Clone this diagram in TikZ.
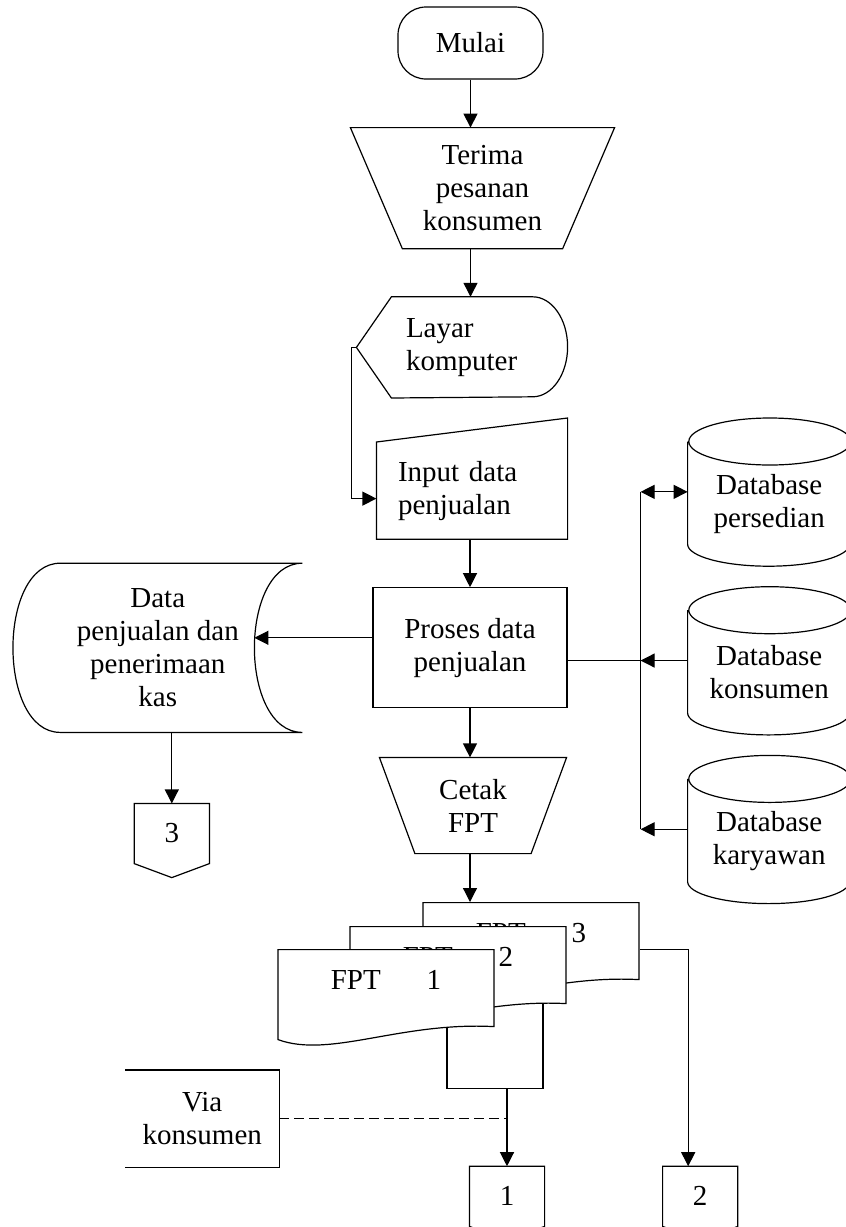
\documentclass[tikz,border=0pt]{standalone}
\usepackage{fontspec}
\setmainfont{Liberation Serif}
\usetikzlibrary{positioning,arrows.meta,calc}

\begin{document}
\begin{tikzpicture}[
    font=\fontsize{14.5pt}{16.5pt}\selectfont,
    line width=0.6pt,
    terminal/.style={rectangle, draw, rounded corners=14pt, minimum width=72.5pt, minimum height=36pt, align=center},
    box/.style={rectangle, draw, minimum width=97pt, minimum height=60pt, align=center},
    frame/.style={rectangle, inner sep=0pt, align=center},
    doc/.style={rectangle, minimum width=108pt, minimum height=38.5pt, inner ysep=0pt, text height=10pt, text depth=8.5pt},
    offpage/.style={rectangle, minimum width=37pt, minimum height=29.5pt, inner sep=0pt},
    db/.style={rectangle, minimum width=81pt, minimum height=61.75pt, inner sep=0pt, align=center},
    arrow/.style={-{Triangle[length=7pt,width=7pt]}},
    arrow2/.style={{Triangle[length=7pt,width=7pt]}-{Triangle[length=7pt,width=7pt]}}
]
\useasboundingbox (0,0) rectangle (423pt,-613.5pt);

% main flow
\node[terminal] (mulai) at (235.25pt,-21.5pt) {Mulai};
\node[frame, minimum width=131.5pt, minimum height=60pt, below=24pt of mulai, xshift=6pt] (terima) {Terima\\pesanan\\konsumen};
\node[frame, minimum width=105pt, minimum height=50pt, inner xsep=24.5pt, text width=56pt, align=left, below=24pt of terima, xshift=-10.25pt] (layar) {Layar\\komputer};
\node[frame, minimum width=95pt, minimum height=48pt, inner xsep=10.5pt, text width=74pt, align=left, below=22pt of layar, xshift=5pt] (input) {Input data\\penjualan};
\node[box, below=24pt of input, xshift=-1pt] (proses) {Proses data\\penjualan};
\node[frame, minimum width=93pt, minimum height=47.5pt, below=24.5pt of proses, xshift=1.5pt] (cetak) {Cetak\\FPT};
\node[frame, minimum width=144pt, minimum height=84pt, left=35pt of proses] (data) {Data\\penjualan dan\\penerimaan\\kas};
\node[offpage, below=35.5pt of data, xshift=7pt] (conn3) {3};

% databases
\node[db, right=60pt of input, yshift=-6.625pt] (persedian) {Database\\persedian};
\node[db, below=22pt of persedian] (konsumen) {Database\\konsumen};
\node[db, below=22pt of konsumen] (karyawan) {Database\\karyawan};

% FPT copies
\coordinate[below=43.75pt of cetak, xshift=29pt] (d3);
\node[rectangle, draw, fill=white, minimum width=48pt, minimum height=48.5pt] (arsip) at ([xshift=-18pt,yshift=-49.5pt]d3) {};
\foreach \i/\dx/\dy in {3/0/0, 2/-36.5/-12, 1/-72.5/-23.5} {
  \draw[fill=white, shift={([xshift=\dx pt,yshift=\dy pt]d3)}] (-54pt,19.25pt) -- (54pt,19.25pt) -- (54pt,-19.25pt)
    .. controls (7pt,-16.75pt) and (-28pt,-35.25pt) .. (-54pt,-25.75pt) -- cycle;
  \node[doc] (fpt\i) at ([xshift=\dx pt,yshift=\dy pt]d3) {FPT\hspace{23pt}\i};
}
\node[frame, minimum width=76.5pt, minimum height=48pt, left=83.5pt of arsip, yshift=-39.25pt] (via) {Via\\konsumen};
\node[offpage, below=38.5pt of arsip, xshift=6pt] (conn1) {1};
\node[offpage, right=59pt of conn1] (conn2) {2};

% outlines
\foreach \n/\d in {terima/26pt,cetak/17.75pt}
  \draw (\n.north west) -- (\n.north east) -- ([xshift=-\d]\n.south east) -- ([xshift=\d]\n.south west) -- cycle;
\draw (layar.west) -- ([xshift=17.5pt]layar.north west) -- ([xshift=-17.5pt]layar.north east)
  arc[start angle=90, end angle=-90, x radius=17.5pt, y radius=25pt] -- ([xshift=17.5pt]layar.south west) -- cycle;
\draw (input.south west) -- (input.north west) -- ([yshift=12pt]input.north east) -- (input.south east) -- cycle;
\draw ([xshift=23.5pt]data.north west) -- (data.north east)
  .. controls ([xshift=-32pt]data.north east) and ([xshift=-32pt]data.south east) .. (data.south east)
  -- ([xshift=23.5pt]data.south west)
  .. controls ([xshift=-8pt]data.south west) and ([xshift=-8pt]data.north west) .. ([xshift=23.5pt]data.north west) -- cycle;
\foreach \c in {conn1,conn2,conn3}
  \draw (\c.north west) -- (\c.north east) -- (\c.south east) -- ([yshift=-7pt]\c.south) -- (\c.south west) -- cycle;
\draw (via.north west) -- (via.north east) -- (via.south east) -- (via.south west);
\foreach \d in {persedian,konsumen,karyawan}
  \draw (\d.north west) -- ([yshift=11pt]\d.south west) arc[start angle=180, end angle=360, x radius=40.5pt, y radius=11pt]
    -- (\d.north east) arc[start angle=0, end angle=360, x radius=40.5pt, y radius=11.75pt];

% connectors
\draw[arrow] (mulai) -- (mulai |- terima.north);
\draw[arrow] (mulai |- terima.south) -- (mulai |- layar.north);
\draw[arrow] (layar.west) -- ++(-2.5pt,0) |- ([yshift=-4pt]input.west);
\draw[arrow] (proses |- input.south) -- (proses.north);
\draw[arrow] ([yshift=5pt]proses.west) -- ([xshift=-24pt,yshift=5pt]data.east);
\draw[arrow] (data.south -| conn3) -- (conn3.north);
\draw[arrow] (proses.south) -- (proses.south |- cetak.north);
\draw[arrow] (proses.south |- cetak.south) -- (proses.south |- fpt3.north);
\draw[arrow] ([yshift=-4.25pt]fpt3.east) -| ([xshift=-6pt]conn2.north);
\draw[arrow] (arsip.south -| conn1) -- (conn1.north);
\draw[dash pattern=on 5pt off 2.5pt] (via.east) -- (via.east -| conn1);

% database lines
\draw ([xshift=-23.5pt,yshift=6pt]persedian.west) -- ([xshift=-23.5pt,yshift=6pt]karyawan.west);
\draw[arrow2] ([xshift=-23.5pt,yshift=6pt]persedian.west) -- ([yshift=6pt]persedian.west);
\draw[arrow] ([yshift=6pt]konsumen.west) -- ++(-23.5pt,0);
\draw[arrow] ([yshift=6pt]karyawan.west) -- ++(-23.5pt,0);
\draw (proses.east |- konsumen.west) ++(0,6pt) -- ([xshift=-23.5pt,yshift=6pt]konsumen.west);
\end{tikzpicture}
\end{document}
